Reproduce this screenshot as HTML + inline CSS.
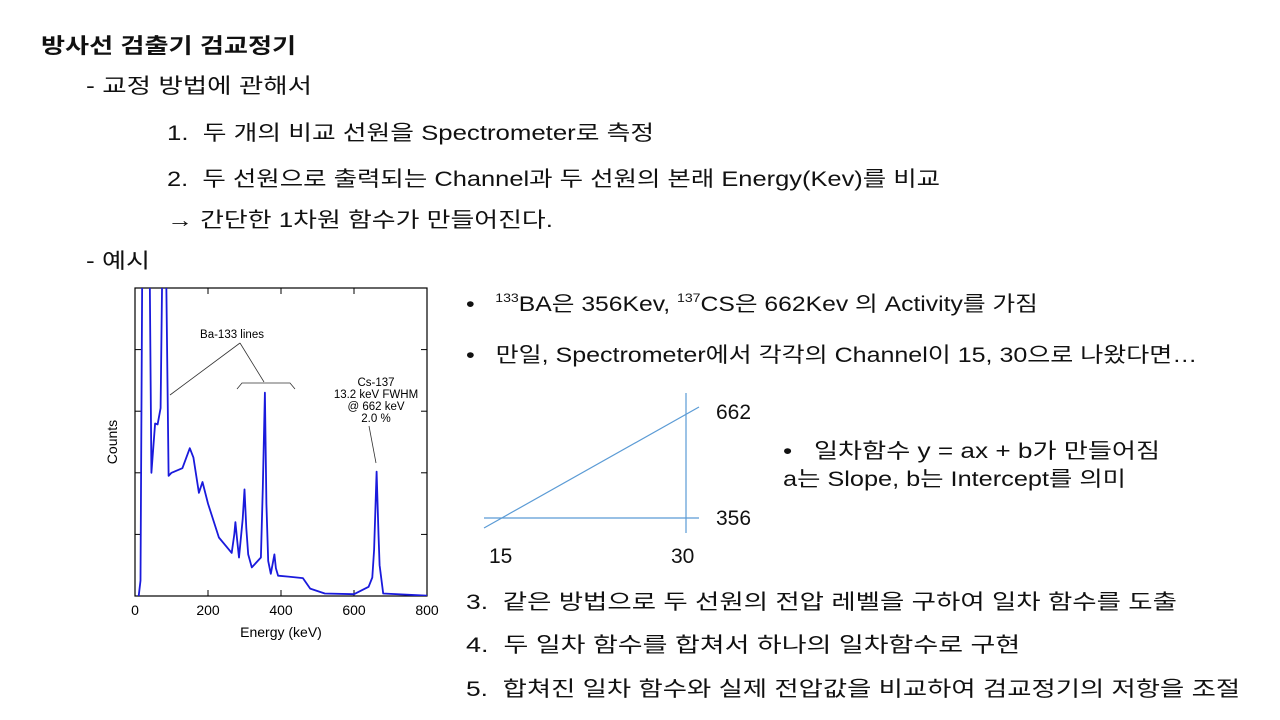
<!DOCTYPE html>
<html><head><meta charset="utf-8">
<style>
body{margin:0;width:1280px;height:720px;background:#fff;position:relative;overflow:hidden;font-family:"Liberation Sans","Noto Sans CJK KR","NanumGothic",sans-serif;color:#111}
.t{position:absolute;font-size:21px;line-height:28px;white-space:nowrap;transform-origin:0 50%}
sup{font-size:12px;vertical-align:9px}
</style></head><body>
<div class="t" data-r="296" style="left:41px;top:33px;font-weight:bold;font-size:21px">방사선 검출기 검교정기</div>
<div class="t" data-r="312" style="left:86px;top:73px">- 교정 방법에 관해서</div>
<div class="t" data-r="654" style="left:167px;top:120px">1.&nbsp; 두 개의 비교 선원을 Spectrometer로 측정</div>
<div class="t" data-r="940" style="left:167px;top:166px">2.&nbsp; 두 선원으로 출력되는 Channel과 두 선원의 본래 Energy(Kev)를 비교</div>
<div class="t" data-r="553" style="left:167px;top:207px">→ 간단한 1차원 함수가 만들어진다.</div>
<div class="t" data-r="150" style="left:86px;top:248px">- 예시</div>
<div class="t" data-r="1038" style="left:466px;top:284px">•&nbsp;&nbsp; <sup>133</sup>BA은 356Kev, <sup>137</sup>CS은 662Kev 의 Activity를 가짐</div>
<div class="t" data-r="1197" style="left:466px;top:342px">•&nbsp;&nbsp; 만일, Spectrometer에서 각각의 Channel이 15, 30으로 나왔다면…</div>
<div class="t" style="left:716px;top:399px">662</div>
<div class="t" style="left:716px;top:505px">356</div>
<div class="t" style="left:489px;top:543px">15</div>
<div class="t" style="left:671px;top:543px">30</div>
<div class="t" data-r="1160" style="left:783px;top:438px">•&nbsp;&nbsp; 일차함수 y = ax + b가 만들어짐</div>
<div class="t" data-r="1126" style="left:783px;top:466px">a는 Slope, b는 Intercept를 의미</div>
<div class="t" data-r="1177" style="left:466px;top:589px">3.&nbsp; 같은 방법으로 두 선원의 전압 레벨을 구하여 일차 함수를 도출</div>
<div class="t" data-r="1020" style="left:466px;top:632px">4.&nbsp; 두 일차 함수를 합쳐서 하나의 일차함수로 구현</div>
<div class="t" data-r="1240" style="left:466px;top:676px">5.&nbsp; 합쳐진 일차 함수와 실제 전압값을 비교하여 검교정기의 저항을 조절</div>

<svg style="position:absolute;left:0;top:0" width="1280" height="720">
<line x1="484" y1="518" x2="699" y2="518" stroke="#5b9bd5" stroke-width="1.2"/>
<line x1="686" y1="393" x2="686" y2="533" stroke="#5b9bd5" stroke-width="1.2"/>
<line x1="484" y1="528" x2="699" y2="407" stroke="#5b9bd5" stroke-width="1.2"/>
</svg>

<svg id="chart" style="position:absolute;left:0;top:0" width="1280" height="720" font-family="Liberation Sans, sans-serif"></svg>
<script>
document.querySelectorAll('.t[data-r]').forEach(el=>{
 const w=el.getBoundingClientRect().width;
 const target=parseFloat(el.getAttribute('data-r'))-el.offsetLeft;
 if(w>0) el.style.transform='scaleX('+(target/w).toFixed(3)+')';
});
const energies=[10,15,20,40,45,55,62,70,75,85,92,100,130,150,160,175,185,200,230,265,272,275,280,285,295,300,305,310,320,345,350,356,360,365,372,378,382,386,392,420,460,480,520,600,640,650,655,662,667,670,680,800];
const counts=[0,5,110,110,40,56,55.7,61,110,110,39,40,41.5,48,45,33.5,37,30,19,14,20,24,18,12.5,25,34.6,22,13.5,9.3,12.5,35,66,30,11.4,7.2,11,13.5,9,6.6,6.3,5.8,2.4,0.8,0.6,3,6,15,40.4,20,10,0.8,0.1];
const xTicks=[0,200,400,600,800];
const yTicks=[20,40,60,80];
const X0=135,X1=427,Y0=596,Y1=288;
const sx=e=>X0+(e-0)/800*(X1-X0);
const sy=c=>Y0-c/100*(Y0-Y1);
const svg=document.getElementById('chart');
const NS='http://www.w3.org/2000/svg';
function mk(t,a){const e=document.createElementNS(NS,t);for(const k in a)e.setAttribute(k,a[k]);svg.appendChild(e);return e;}
const defs=mk('defs',{});
const cp=document.createElementNS(NS,'clipPath');cp.setAttribute('id','pc');
const cr=document.createElementNS(NS,'rect');cr.setAttribute('x',X0);cr.setAttribute('y',Y1);cr.setAttribute('width',X1-X0);cr.setAttribute('height',Y0-Y1);
cp.appendChild(cr);defs.appendChild(cp);
const frame=mk('rect',{x:X0,y:Y1,width:X1-X0,height:Y0-Y1,fill:'none',stroke:'#000','stroke-width':1.2});


xTicks.forEach(v=>{
 const l=mk('line',{x1:sx(v),x2:sx(v),y1:Y0,y2:Y0-6,stroke:'#000'});
 
 
 const l2=mk('line',{x1:sx(v),x2:sx(v),y1:Y1,y2:Y1+6,stroke:'#000'});
 
 
 const t=mk('text',{x:sx(v),y:Y0+19,'font-size':14,'text-anchor':'middle'});t.textContent=v;
 
 
});
yTicks.forEach(v=>{
 const l=mk('line',{x1:X0,x2:X0+6,y1:sy(v),y2:sy(v),stroke:'#000'});
 
 
 const l2=mk('line',{x1:X1,x2:X1-6,y1:sy(v),y2:sy(v),stroke:'#000'});
 
 
});
const xt=mk('text',{x:(X0+X1)/2,y:Y0+41,'font-size':14,'text-anchor':'middle'});xt.textContent='Energy (keV)';


const yt=mk('text',{x:117,y:(Y0+Y1)/2,'font-size':14,'text-anchor':'middle',transform:`rotate(-90 117 ${(Y0+Y1)/2})`});yt.textContent='Counts';


const d=energies.map((e,i)=>(i?'L':'M')+sx(e).toFixed(1)+','+sy(counts[i]).toFixed(1)).join(' ');
const p=mk('path',{d:d,fill:'none',stroke:'#1a1adc','stroke-width':1.8,'clip-path':'url(#pc)','stroke-linejoin':'round'});


function txt(x,y,s,n){const t=mk('text',{x:x,y:y,'font-size':11.5,'text-anchor':'middle'});t.textContent=s;
 
 }
txt(232,338,'Ba-133 lines','ba133-label');
txt(376,386,'Cs-137','cs137-label');
txt(376,398,'13.2 keV FWHM','fwhm-label');
txt(376,410,'@ 662 keV','energy-label');
txt(376,422,'2.0 %','percent-label');
const ann=mk('path',{d:'M240,343 L170,395 M240,343 L264,382 M237,389 L242,383 L290,383 L295,389 M369,426 L376,463',fill:'none',stroke:'#333','stroke-width':0.8});


</script>
</body></html>
